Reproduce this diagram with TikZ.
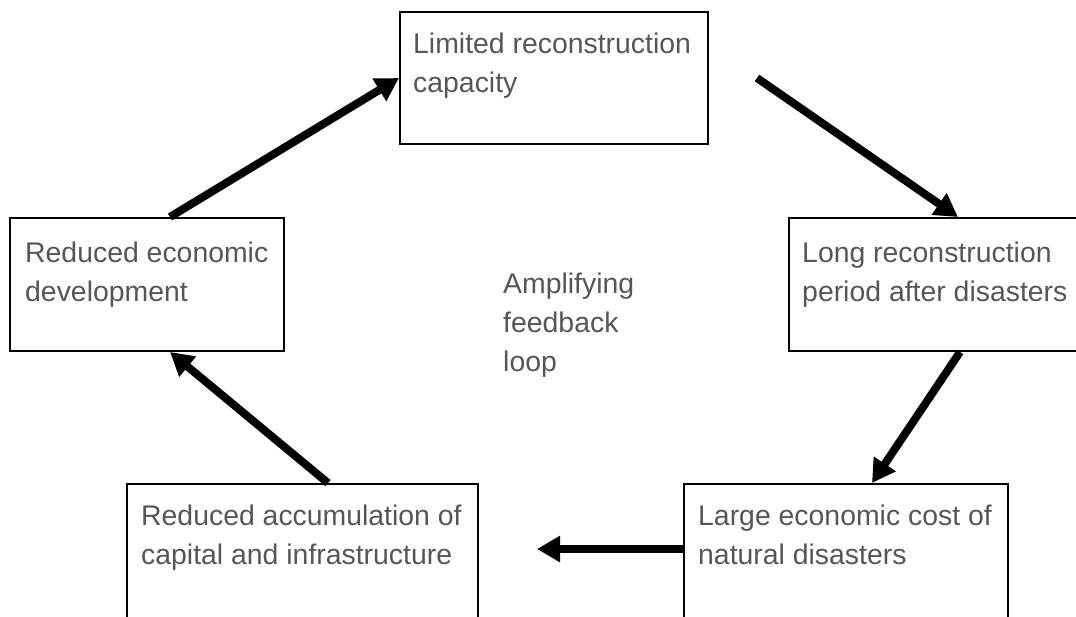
\documentclass[tikz,border=0pt]{standalone}
\usepackage{fontspec}
\setmainfont{Liberation Sans}
\usetikzlibrary{arrows.meta}
\definecolor{txtgray}{RGB}{89,84,89}
\tikzset{
  box/.style={draw=black, line width=2pt, fill=white, inner sep=0pt, anchor=north west},
  txt/.style={text=txtgray, font=\fontsize{28.4}{39}\selectfont, align=left, inner sep=0pt, anchor=base west},
  arr/.style={line width=8pt, -{Triangle[length=23pt,width=25pt]}}
}
\begin{document}
\begin{tikzpicture}[x=1pt,y=-1pt]
\clip (0,0) rectangle (1076,616);
\fill[white] (0,0) rectangle (1076,616);
% boxes
\node[box, minimum width=308pt, minimum height=132pt] (T) at (399,11) {};
\node[box, minimum width=274pt, minimum height=133pt] (L) at (9,217) {};
\node[box, minimum width=310pt, minimum height=133pt] (R) at (788,217) {};
\node[box, minimum width=351pt, minimum height=145pt] (BL) at (126,483) {};
\node[box, minimum width=324pt, minimum height=145pt] (BR) at (683,483) {};
% texts (base anchor = baseline of last line)
\node[txt] (Tt) at ([xshift=14pt,yshift=-81pt]T.north west) {Limited reconstruction\\capacity};
\node[txt] (Lt) at ([xshift=16pt,yshift=-84pt]L.north west) {Reduced economic\\development};
\node[txt] (Rt) at ([xshift=14pt,yshift=-84pt]R.north west) {Long reconstruction\\period after disasters};
\node[txt] (BLt) at ([xshift=15pt,yshift=-81pt]BL.north west) {Reduced accumulation of\\capital and infrastructure};
\node[txt] (BRt) at ([xshift=15pt,yshift=-81pt]BR.north west) {Large economic cost of\\natural disasters};
\node[txt] (C) at (503,371) {Amplifying\\feedback\\loop};
% free ends
\coordinate (trs) at (757,78);
\coordinate (ble) at (537,549);
% arrows
\draw[arr] ([xshift=161pt]L.north west) -- ([yshift=-67pt]T.north west);
\draw[arr] (trs) -- ([xshift=170pt]R.north west);
\draw[arr] ([xshift=172pt]R.south west) -- ([xshift=189pt]BR.north west);
\draw[arr] ([yshift=-66pt]BR.north west) -- (ble);
\draw[arr] ([xshift=202pt]BL.north west) -- ([xshift=161pt]L.south west);
\end{tikzpicture}
\end{document}
